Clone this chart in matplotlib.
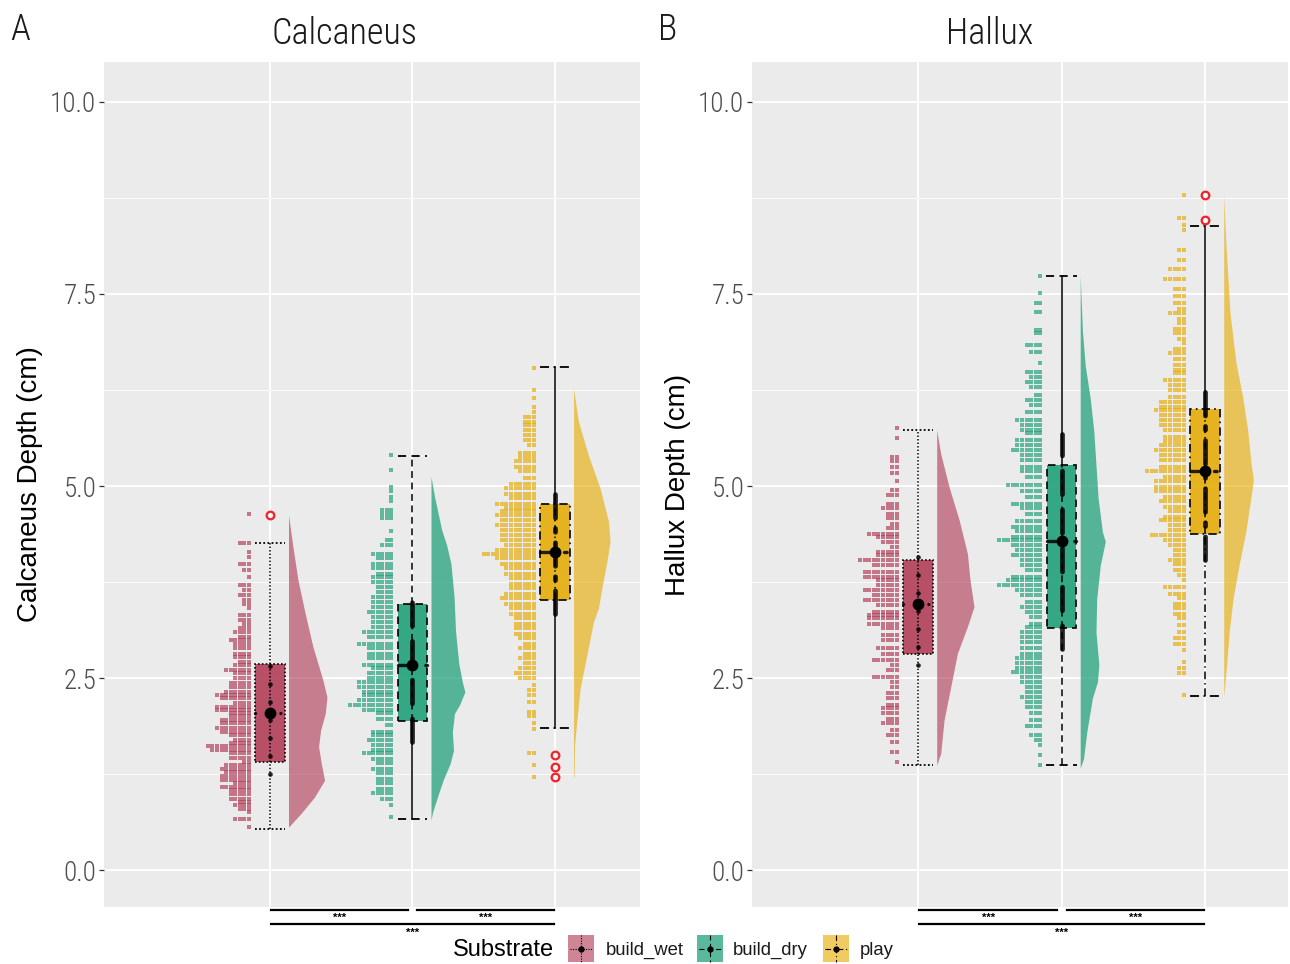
import numpy as np
import matplotlib
matplotlib.use("Agg")
import matplotlib.pyplot as plt
from matplotlib.patches import Rectangle
from matplotlib.ticker import MultipleLocator, FixedLocator

# ---------------- data ----------------
categories = ["build_wet", "build_dry", "play"]
panel_titles = ["Calcaneus", "Hallux"]
panel_letters = ["A", "B"]
y_labels = ["Calcaneus Depth (cm)", "Hallux Depth (cm)"]
y_ticks = [0.0, 2.5, 5.0, 7.5, 10.0]
y_tick_labels = ["0.0", "2.5", "5.0", "7.5", "10.0"]
legend_title = "Substrate"
sig_labels = ["***", "***", "***"]
sig_pairs = [(1, 2), (2, 3), (1, 3)]

# box summaries (order: build_wet, build_dry, play)
calc_whislo = [0.53, 0.66, 1.85]
calc_q1 = [1.41, 1.94, 3.51]
calc_center = [2.05, 2.67, 4.14]
calc_q3 = [2.68, 3.46, 4.76]
calc_whishi = [4.26, 5.39, 6.55]
calc_sd = [0.80, 1.00, 0.80]
calc_outliers = [[4.62], [], [1.50, 1.34, 1.21]]

hal_whislo = [1.37, 1.37, 2.27]
hal_q1 = [2.82, 3.15, 4.38]
hal_center = [3.47, 4.28, 5.19]
hal_q3 = [4.04, 5.27, 6.00]
hal_whishi = [5.73, 7.73, 8.38]
hal_sd = [0.80, 1.40, 1.15]
hal_outliers = [[], [], [8.79, 8.46]]

# dot-histogram rows: value (cm) and number of dots in the row
calc_wet_dot_y = [4.63, 4.26, 4.14, 4.08, 3.99, 3.91, 3.82, 3.71, 3.65, 3.58, 3.52, 3.47, 3.41, 3.32, 3.26,
                  3.21, 3.15, 3.10, 3.04, 2.99, 2.95, 2.89, 2.82, 2.78, 2.71, 2.67, 2.60, 2.56, 2.50, 2.43,
                  2.39, 2.32, 2.28, 2.24, 2.17, 2.13, 2.08, 2.04, 2.00, 1.95, 1.91, 1.85, 1.80, 1.76, 1.69,
                  1.65, 1.61, 1.56, 1.52, 1.46, 1.41, 1.37, 1.32, 1.28, 1.22, 1.17, 1.13, 1.08, 1.04, 0.99,
                  0.93, 0.89, 0.85, 0.80, 0.76, 0.67, 0.56]
calc_wet_dot_n = [1, 3, 1, 1, 3, 2, 1, 3, 2, 3, 2, 2, 1, 3, 3,
                  2, 3, 4, 3, 5, 4, 4, 4, 4, 3, 4, 6, 4, 4, 5,
                  5, 6, 8, 7, 4, 8, 8, 5, 5, 7, 7, 8, 7, 5, 4,
                  5, 10, 9, 5, 5, 2, 6, 7, 6, 7, 7, 4, 7, 5, 5,
                  5, 3, 4, 3, 1, 4, 1]
calc_dry_dot_y = [5.40, 5.21, 4.99, 4.93, 4.86, 4.80, 4.69, 4.64, 4.58, 4.41, 4.30, 4.23, 4.12, 4.06, 3.99,
                  3.93, 3.86, 3.82, 3.75, 3.69, 3.62, 3.56, 3.49, 3.43, 3.36, 3.30, 3.23, 3.17, 3.10, 3.04,
                  2.95, 2.89, 2.82, 2.76, 2.67, 2.63, 2.56, 2.50, 2.45, 2.39, 2.32, 2.28, 2.21, 2.15, 2.08,
                  2.04, 1.97, 1.89, 1.80, 1.76, 1.69, 1.63, 1.56, 1.52, 1.45, 1.39, 1.32, 1.26, 1.19, 1.13,
                  1.06, 1.00, 0.93, 0.85, 0.69]
calc_dry_dot_n = [1, 1, 1, 1, 1, 1, 3, 3, 3, 1, 2, 3, 5, 4, 5,
                  5, 4, 5, 5, 4, 4, 5, 5, 5, 6, 5, 5, 5, 7, 6,
                  8, 6, 6, 6, 7, 5, 6, 6, 8, 8, 7, 7, 8, 10, 7,
                  4, 4, 2, 5, 5, 6, 5, 5, 7, 5, 4, 5, 4, 4, 4,
                  4, 5, 3, 1, 1]
calc_play_dot_y = [6.54, 6.25, 6.14, 6.03, 5.97, 5.90, 5.84, 5.79, 5.73, 5.66, 5.60, 5.53, 5.43, 5.38, 5.32,
                   5.25, 5.19, 5.10, 5.03, 4.97, 4.90, 4.84, 4.77, 4.71, 4.67, 4.62, 4.56, 4.49, 4.43, 4.36,
                   4.30, 4.23, 4.17, 4.11, 4.06, 3.99, 3.93, 3.86, 3.80, 3.73, 3.67, 3.60, 3.54, 3.47, 3.41,
                   3.34, 3.28, 3.21, 3.15, 3.08, 3.02, 2.95, 2.89, 2.82, 2.76, 2.69, 2.63, 2.56, 2.50, 2.41,
                   2.34, 2.28, 2.19, 2.06, 2.00, 1.91, 1.84, 1.52, 1.37, 1.21]
calc_play_dot_n = [1, 1, 1, 1, 1, 3, 3, 3, 3, 3, 3, 2, 4, 4, 5,
                   5, 4, 3, 6, 7, 7, 6, 9, 7, 8, 9, 8, 9, 8, 8,
                   8, 7, 9, 12, 9, 8, 7, 7, 6, 6, 6, 7, 8, 7, 6,
                   6, 5, 5, 5, 5, 4, 3, 4, 3, 4, 3, 4, 5, 4, 1,
                   2, 2, 2, 2, 2, 1, 1, 2, 1, 1]
hal_wet_dot_y = [5.75, 5.62, 5.38, 5.32, 5.25, 5.17, 5.06, 4.95, 4.88, 4.77, 4.71, 4.64, 4.58, 4.51, 4.45,
                 4.38, 4.34, 4.27, 4.21, 4.14, 4.10, 4.04, 3.97, 3.88, 3.82, 3.78, 3.71, 3.65, 3.58, 3.52,
                 3.45, 3.36, 3.32, 3.28, 3.21, 3.15, 3.06, 2.99, 2.89, 2.82, 2.73, 2.67, 2.60, 2.52, 2.45,
                 2.39, 2.30, 2.24, 2.15, 2.11, 2.04, 1.97, 1.91, 1.82, 1.76, 1.67, 1.54, 1.41]
hal_wet_dot_n = [1, 1, 2, 2, 2, 2, 1, 2, 3, 3, 4, 3, 3, 2, 3,
                 7, 5, 4, 2, 5, 5, 9, 6, 8, 8, 5, 5, 8, 6, 8,
                 5, 6, 7, 7, 7, 4, 4, 4, 5, 4, 6, 2, 3, 6, 2,
                 2, 3, 3, 3, 4, 4, 3, 4, 2, 3, 2, 2, 1]
hal_dry_dot_y = [7.73, 7.51, 7.38, 7.27, 7.03, 6.99, 6.84, 6.75, 6.60, 6.49, 6.42, 6.36, 6.29, 6.18, 6.12,
                 6.05, 5.97, 5.86, 5.79, 5.73, 5.69, 5.60, 5.53, 5.47, 5.40, 5.34, 5.25, 5.19, 5.12, 5.01,
                 4.93, 4.86, 4.77, 4.71, 4.64, 4.54, 4.47, 4.41, 4.34, 4.30, 4.23, 4.17, 4.10, 4.04, 3.97,
                 3.91, 3.82, 3.78, 3.71, 3.65, 3.58, 3.49, 3.43, 3.36, 3.30, 3.21, 3.17, 3.10, 3.04, 2.97,
                 2.89, 2.82, 2.76, 2.69, 2.63, 2.58, 2.52, 2.45, 2.39, 2.32, 2.26, 2.19, 2.13, 2.04, 1.95,
                 1.87, 1.76, 1.69, 1.63, 1.50, 1.37]
hal_dry_dot_n = [1, 1, 2, 2, 2, 2, 4, 3, 1, 4, 3, 4, 3, 2, 4,
                 3, 4, 6, 5, 5, 4, 6, 6, 7, 5, 5, 5, 5, 4, 8,
                 5, 4, 7, 5, 4, 6, 7, 6, 7, 10, 7, 6, 7, 5, 5,
                 4, 7, 8, 10, 6, 5, 4, 5, 4, 3, 3, 4, 5, 5, 5,
                 5, 5, 6, 6, 6, 7, 5, 5, 4, 4, 5, 4, 4, 3, 3,
                 4, 3, 2, 1, 1, 1]
hal_play_dot_y = [8.79, 8.49, 8.40, 8.33, 8.07, 7.94, 7.83, 7.70, 7.57, 7.47, 7.38, 7.31, 7.25, 7.18, 7.12,
                  7.05, 6.99, 6.92, 6.86, 6.79, 6.73, 6.66, 6.58, 6.51, 6.47, 6.38, 6.32, 6.25, 6.16, 6.10,
                  6.03, 5.99, 5.92, 5.86, 5.79, 5.73, 5.64, 5.58, 5.53, 5.47, 5.40, 5.34, 5.25, 5.19, 5.12,
                  5.06, 4.99, 4.93, 4.86, 4.80, 4.73, 4.67, 4.60, 4.56, 4.49, 4.43, 4.36, 4.30, 4.23, 4.17,
                  4.10, 4.04, 3.99, 3.91, 3.84, 3.78, 3.69, 3.60, 3.54, 3.47, 3.41, 3.34, 3.28, 3.19, 3.10,
                  3.02, 2.95, 2.86, 2.71, 2.63, 2.56, 2.28]
hal_play_dot_n = [1, 2, 1, 1, 2, 2, 4, 5, 3, 3, 3, 2, 4, 2, 2,
                  3, 3, 2, 1, 3, 4, 3, 3, 3, 3, 5, 4, 4, 4, 6,
                  6, 7, 6, 6, 6, 5, 5, 5, 6, 7, 6, 6, 6, 9, 5,
                  7, 7, 7, 5, 6, 5, 4, 5, 6, 4, 4, 8, 5, 4, 3,
                  3, 4, 3, 3, 2, 1, 5, 4, 2, 3, 3, 3, 2, 2, 2,
                  3, 3, 1, 1, 2, 2, 1]

# half-violin density profiles: value (cm) and half width (category units)
calc_wet_vio_y = [4.62, 4.21, 3.78, 3.34, 2.91, 2.47, 2.25, 2.04, 1.82, 1.61, 1.39, 1.17, 0.95, 0.74, 0.56]
calc_wet_vio_w = [0.0, 0.031, 0.066, 0.117, 0.171, 0.242, 0.270, 0.258, 0.225, 0.211, 0.230, 0.253, 0.182, 0.089, 0.0]
calc_dry_vio_y = [5.12, 4.86, 4.43, 4.23, 3.99, 3.56, 3.12, 2.69, 2.45, 2.32, 2.15, 2.04, 1.80, 1.56, 1.39, 1.17, 0.95, 0.76, 0.65]
calc_dry_vio_w = [0.0, 0.025, 0.075, 0.11, 0.14, 0.162, 0.172, 0.195, 0.22, 0.238, 0.2, 0.165, 0.15, 0.158, 0.135, 0.085, 0.045, 0.012, 0.0]
calc_play_vio_y = [6.27, 5.84, 5.40, 4.97, 4.54, 4.28, 4.01, 3.67, 3.41, 3.23, 2.80, 2.37, 1.93, 1.63, 1.21]
calc_play_vio_w = [0.0, 0.035, 0.105, 0.187, 0.246, 0.257, 0.234, 0.199, 0.175, 0.14, 0.094, 0.047, 0.023, 0.008, 0.004]
hal_wet_vio_y = [5.73, 5.42, 4.99, 4.56, 4.12, 3.78, 3.43, 3.17, 2.82, 2.39, 1.95, 1.52, 1.37]
hal_wet_vio_w = [0.0, 0.028, 0.086, 0.156, 0.214, 0.232, 0.26, 0.214, 0.144, 0.098, 0.051, 0.028, 0.0]
hal_dry_vio_y = [7.73, 7.01, 6.57, 6.14, 5.71, 5.27, 4.84, 4.40, 4.28, 3.97, 3.53, 3.10, 2.67, 2.45, 2.24, 1.80, 1.45, 1.33]
hal_dry_vio_w = [0.0, 0.016, 0.035, 0.07, 0.095, 0.11, 0.125, 0.155, 0.175, 0.14, 0.115, 0.11, 0.13, 0.12, 0.085, 0.046, 0.023, 0.0]
hal_play_vio_y = [8.79, 8.12, 7.25, 6.60, 6.16, 5.73, 5.30, 5.08, 4.86, 4.43, 3.99, 3.56, 3.12, 2.69, 2.25]
hal_play_vio_w = [0.0, 0.016, 0.044, 0.086, 0.132, 0.167, 0.19, 0.207, 0.19, 0.156, 0.109, 0.067, 0.039, 0.021, 0.0]

# ---------------- style ----------------
colors = ["#B03A55", "#1B9E77", "#E6AB02"]
vio_alpha = [0.62, 0.72, 0.62]
thin_styles = [(0, (1.0, 1.3)), (0, (4.5, 3.0)), (0, (5.0, 2.5, 1.0, 2.5))]
thick_styles = [(0, (0.01, 3.8)), (0, (5.0, 3.2)), (0, (5.0, 2.2, 0.8, 2.2))]
solid_upper = [[False, False, True], [False, True, True]]
solid_lower = [[False, True, True], [False, False, False]]
BG = "#EBEBEB"
THIN_FONT = ["Roboto Condensed", "Roboto", "DejaVu Sans"]
ARIAL = ["Liberation Sans", "DejaVu Sans"]

W, H = 1290, 964
fig = plt.figure(figsize=(W / 100, H / 100), dpi=100)

panel_px = [(104, 640), (752, 1288)]
title_cx = [345, 990]
top_px, bot_px = 62, 907
y_lo, y_hi = -0.48, 10.52
xlims = [(-0.165, 3.597), (-0.157, 3.578)]

panels = [
    dict(whislo=calc_whislo, q1=calc_q1, center=calc_center, q3=calc_q3, whishi=calc_whishi,
         sd=calc_sd, out=calc_outliers,
         dots=[(calc_wet_dot_y, calc_wet_dot_n), (calc_dry_dot_y, calc_dry_dot_n), (calc_play_dot_y, calc_play_dot_n)],
         vios=[(calc_wet_vio_y, calc_wet_vio_w), (calc_dry_vio_y, calc_dry_vio_w), (calc_play_vio_y, calc_play_vio_w)]),
    dict(whislo=hal_whislo, q1=hal_q1, center=hal_center, q3=hal_q3, whishi=hal_whishi,
         sd=hal_sd, out=hal_outliers,
         dots=[(hal_wet_dot_y, hal_wet_dot_n), (hal_dry_dot_y, hal_dry_dot_n), (hal_play_dot_y, hal_play_dot_n)],
         vios=[(hal_wet_vio_y, hal_wet_vio_w), (hal_dry_vio_y, hal_dry_vio_w), (hal_play_vio_y, hal_play_vio_w)]),
]

box_hw = 0.103
cap_hw = 0.105
dot_off = 0.148
dot_dx = 0.032
vio_off = 0.13

for p, (pdat, (xl, xr)) in enumerate(zip(panels, panel_px)):
    ax = fig.add_axes([xl / W, (H - bot_px) / H, (xr - xl) / W, (bot_px - top_px) / H])
    ax.set_facecolor(BG)
    for s in ax.spines.values():
        s.set_visible(False)
    ax.set_xlim(*xlims[p])
    ax.set_ylim(y_lo, y_hi)
    ax.set_xticks([1, 2, 3])
    ax.set_xticklabels([])
    ax.tick_params(axis="x", length=0)
    ax.yaxis.set_major_locator(FixedLocator(y_ticks))
    ax.set_yticklabels(y_tick_labels, family=THIN_FONT, fontweight="light", fontsize=19.5,
                       color="#4D4D4D")
    ax.yaxis.set_minor_locator(MultipleLocator(1.25))
    ax.tick_params(axis="y", which="major", length=3.5, width=0.9, color="#333333", pad=2)
    ax.tick_params(axis="y", which="minor", length=0)
    ax.grid(True, which="major", color="white", lw=1.3)
    ax.grid(True, which="minor", axis="y", color="white", lw=0.6)
    ax.set_axisbelow(True)

    for i in range(3):
        c = i + 1
        col = colors[i]
        # dot histogram (left)
        ys, ns = pdat["dots"][i]
        xs_all, ys_all = [], []
        for yv, nv in zip(ys, ns):
            for k in range(nv):
                xs_all.append(c - dot_off - k * dot_dx)
                ys_all.append(yv)
        ax.scatter(xs_all, ys_all, marker="s", s=4.8, color=col, alpha=0.66, linewidths=0, zorder=2)
        # half violin (right)
        vy, vw = pdat["vios"][i]
        vy = np.array(vy); vw = np.array(vw)
        ax.fill_betweenx(vy, c + vio_off, c + vio_off + vw, color=col, alpha=vio_alpha[i], lw=0, zorder=2)

        lo, q1, m, q3, hi, sd = (pdat["whislo"][i], pdat["q1"][i], pdat["center"][i],
                                 pdat["q3"][i], pdat["whishi"][i], pdat["sd"][i])
        # whiskers
        ax.plot([c, c], [q3, hi], color="black", lw=1.1, ls="-" if solid_upper[p][i] else thin_styles[i], zorder=3)
        ax.plot([c, c], [lo, q1], color="black", lw=1.1, ls="-" if solid_lower[p][i] else thin_styles[i], zorder=3)
        for yv in (lo, hi):
            ax.plot([c - cap_hw, c + cap_hw], [yv, yv], color="black", lw=1.3, ls=thin_styles[i], zorder=3)
        # box
        ax.add_patch(Rectangle((c - box_hw, q1), 2 * box_hw, q3 - q1, facecolor=col, alpha=0.88,
                               edgecolor="none", zorder=4))
        ax.add_patch(Rectangle((c - box_hw, q1), 2 * box_hw, q3 - q1, facecolor="none",
                               edgecolor="black", lw=1.2, ls=thin_styles[i], zorder=5))
        ax.plot([c, c], [q1, q3], color="black", lw=1.1, ls=thin_styles[i], zorder=5)
        # point range (centre +/- sd)
        ax.plot([c, c], [m - sd, m + sd], color="black", lw=3.4, ls=thick_styles[i],
                dash_capstyle="round", solid_capstyle="round", alpha=0.85, zorder=6)
        ax.plot([c - box_hw, c + box_hw], [m, m], color="black", lw=2.4, ls=thick_styles[i],
                dash_capstyle="round", alpha=0.85, zorder=6)
        ax.plot([c], [m], marker="o", ms=7.5, color="black", zorder=7)
        # outliers
        if pdat["out"][i]:
            ax.plot([c] * len(pdat["out"][i]), pdat["out"][i], ls="none", marker="o", ms=5.5,
                    mfc="none", mec="#F0222A", mew=1.6, zorder=7)

    # significance brackets below the panel
    sig_levels = [(-0.52, -0.62), (-0.52, -0.62), (-0.70, -0.82)]
    sig_x = [(1.01, 1.97), (2.035, 2.99), (1.005, 2.99)]
    for (x0, x1), lab, (ly, ty) in zip(sig_x, sig_labels, sig_levels):
        ax.plot([x0, x1], [ly, ly], color="black", lw=1.6, clip_on=False, zorder=8)
        ax.text((x0 + x1) / 2, ty, lab, ha="center", va="center", fontsize=8, fontweight="bold",
                family=ARIAL, clip_on=False)

    # titles, letters, y label
    fig.text(title_cx[p] / W, 1 - 34 / H, panel_titles[p], ha="center", va="center",
             fontsize=26, family=THIN_FONT, fontweight="light", color="#1A1A1A")
    fig.text((xl - 84) / W, 1 - 30 / H, panel_letters[p], ha="center", va="center",
             fontsize=26, family=THIN_FONT, fontweight="light", color="#1A1A1A")
    fig.text((xl - 74) / W, 1 - ((top_px + bot_px) / 2 + 0) / H, y_labels[p], rotation=90,
             ha="center", va="center", fontsize=20, family=ARIAL, color="black")

# ---------------- legend ----------------
axL = fig.add_axes([0, 0, 1, (H - bot_px) / H])
axL.set_xlim(0, W)
axL.set_ylim(H, bot_px)
axL.axis("off")
axL.text(453, 950, legend_title, ha="left", va="center", fontsize=17, family=ARIAL, color="black")
key_x = [568, 697, 823]
lab_x = [606, 733, 860]
for i, name in enumerate(categories):
    kx = key_x[i]
    axL.add_patch(Rectangle((kx, 935), 26, 27, facecolor=colors[i], alpha=vio_alpha[i], edgecolor="none"))
    axL.plot([kx + 13, kx + 13], [935, 962], color="black", lw=0.8, ls=thin_styles[i])
    axL.plot([kx + 2, kx + 24], [948.5, 948.5], color="black", lw=0.8, ls=thin_styles[i])
    axL.plot([kx + 13], [948.5], marker="o", ms=3.5, color="black")
    axL.text(lab_x[i], 950, name, ha="left", va="center", fontsize=13.3, family=ARIAL, color="#1A1A1A")

fig.savefig("out.png", dpi=100, facecolor="white")
